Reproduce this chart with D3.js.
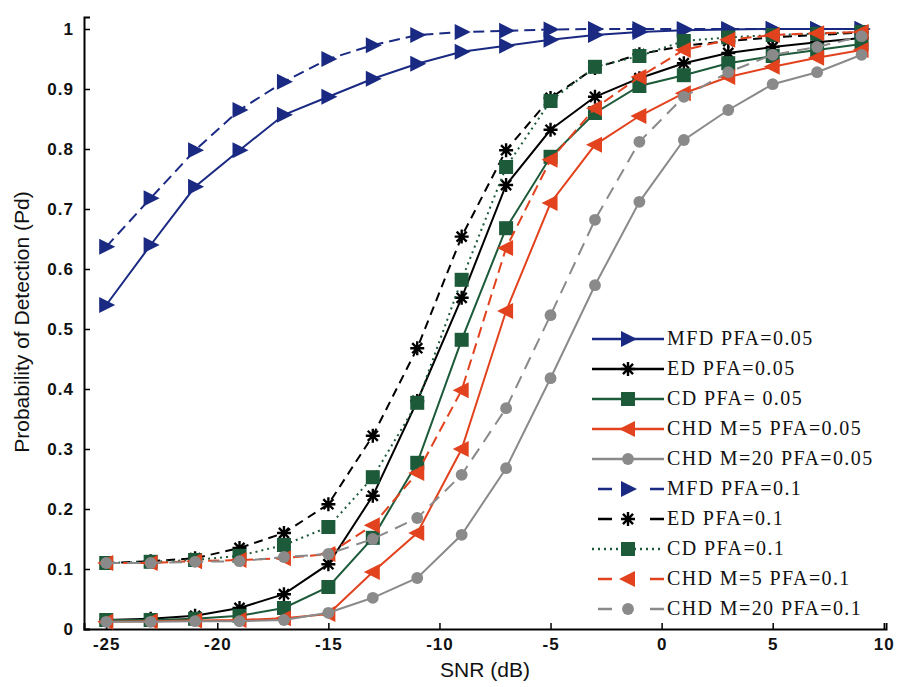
<!DOCTYPE html>
<html><head><meta charset="utf-8">
<script src="https://cdn.jsdelivr.net/npm/d3@7"></script>
<style>body{margin:0;background:#fff}svg{display:block}</style>
</head><body>
<svg id="chart" width="899" height="687"></svg>
<script>
// ---- data ----
const snr = [-25,-23,-21,-19,-17,-15,-13,-11,-9,-7,-5,-3,-1,1,3,5,7,9];
const mfd005 = [0.54,0.64,0.737,0.798,0.857,0.887,0.917,0.942,0.962,0.972,0.982,0.99,0.995,0.998,0.999,1.0,1.0,1.0];
const ed005  = [0.015,0.017,0.022,0.035,0.058,0.108,0.222,0.38,0.552,0.74,0.832,0.887,0.918,0.943,0.96,0.97,0.978,0.985];
const cd005  = [0.015,0.015,0.017,0.022,0.035,0.07,0.152,0.277,0.482,0.668,0.787,0.86,0.905,0.923,0.943,0.955,0.965,0.975];
const chd5_005  = [0.012,0.013,0.014,0.015,0.018,0.025,0.095,0.16,0.30,0.53,0.71,0.807,0.855,0.893,0.92,0.937,0.952,0.965];
const chd20_005 = [0.012,0.012,0.013,0.013,0.015,0.027,0.052,0.085,0.157,0.268,0.418,0.573,0.712,0.815,0.865,0.908,0.928,0.957];
const mfd01  = [0.637,0.718,0.798,0.865,0.912,0.95,0.973,0.99,0.995,0.997,0.999,1.0,1.0,1.0,1.0,1.0,1.0,1.0];
const ed01   = [0.11,0.113,0.118,0.135,0.16,0.208,0.322,0.468,0.654,0.798,0.885,0.935,0.958,0.972,0.98,0.986,0.99,0.994];
const cd01   = [0.11,0.112,0.115,0.122,0.14,0.17,0.253,0.377,0.582,0.77,0.88,0.937,0.955,0.98,0.986,0.99,0.992,0.995];
const chd5_01  = [0.11,0.11,0.113,0.115,0.118,0.125,0.173,0.26,0.398,0.635,0.782,0.868,0.92,0.965,0.982,0.99,0.993,0.995];
const chd20_01 = [0.11,0.11,0.112,0.113,0.12,0.125,0.15,0.185,0.257,0.368,0.523,0.682,0.812,0.887,0.928,0.957,0.97,0.988];
const xTicks = [-25,-20,-15,-10,-5,0,5,10];
const yTicks = [0,0.1,0.2,0.3,0.4,0.5,0.6,0.7,0.8,0.9,1];
const seriesNames = ["MFD PFA=0.05","ED PFA=0.05","CD PFA= 0.05","CHD M=5 PFA=0.05","CHD M=20 PFA=0.05",
  "MFD PFA=0.1","ED PFA=0.1","CD PFA=0.1","CHD M=5 PFA=0.1","CHD M=20 PFA=0.1"];
const seriesValues = [mfd005,ed005,cd005,chd5_005,chd20_005,mfd01,ed01,cd01,chd5_01,chd20_01];

// ---- styles ----
const BLUE="#1a2a82", BLACK="#000", GREEN="#1d5a3a", RED="#e2421d", GREY="#8a8a8a";
const styles = [
  {c:BLUE,m:"tri-r",d:null},{c:BLACK,m:"ast",d:null},{c:GREEN,m:"sq",d:null},{c:RED,m:"tri-l",d:null},{c:GREY,m:"circ",d:null},
  {c:BLUE,m:"tri-r",d:"11,6"},{c:BLACK,m:"ast",d:"9,6"},{c:GREEN,m:"sq",d:"2,4"},{c:RED,m:"tri-l",d:"11,6"},{c:GREY,m:"circ",d:"13,8"}
];

const svg = d3.select("#chart");
const x = d3.scaleLinear().domain([-26,10.1]).range([84,886]);
const y = d3.scaleLinear().domain([0,1.02]).range([629,17]);

// axes
const xAxis = d3.axisBottom(x).tickValues(xTicks).tickSize(-6).tickPadding(9).tickFormat(d=>String(d));
const yAxis = d3.axisLeft(y).tickValues(yTicks).tickSize(-6).tickPadding(10).tickFormat(d=>d===0||d===1?String(d):d3.format(".1f")(d));
const gx = svg.append("g").attr("transform","translate(0,629)").call(xAxis);
const gy = svg.append("g").attr("transform","translate(84,0)").call(yAxis);
[gx,gy].forEach(g=>{
  g.select(".domain").attr("stroke","#000").attr("stroke-width",2);
  g.selectAll(".tick line").attr("stroke","#000").attr("stroke-width",1.5);
  g.selectAll(".tick text").attr("fill","#111").style("font-family","Liberation Sans, Arial, sans-serif")
   .style("font-weight","bold").style("font-size","17px").style("letter-spacing","1px");
});

svg.append("text").attr("x",485).attr("y",677).attr("text-anchor","middle")
  .style("font-family","Liberation Sans, Arial, sans-serif").style("font-size","21px").attr("fill","#111").text("SNR (dB)");
svg.append("text").attr("transform","translate(29,322) rotate(-90)").attr("text-anchor","middle")
  .style("font-family","Liberation Sans, Arial, sans-serif").style("font-size","21px").attr("fill","#111").text("Probability of Detection (Pd)");

// marker drawing
function marker(g, type, color){
  if(type==="tri-r") g.append("path").attr("d","M-7,-8 L9,0 L-7,8 Z").attr("fill",color);
  else if(type==="tri-l") g.append("path").attr("d","M7,-8 L-9,0 L7,8 Z").attr("fill",color);
  else if(type==="sq") g.append("rect").attr("x",-7).attr("y",-7).attr("width",14).attr("height",14).attr("fill",color);
  else if(type==="circ") g.append("path").attr("d",d3.symbol(d3.symbolCircle,110)()).attr("fill",color);
  else if(type==="ast"){
    const r=7, a=r*0.72;
    g.append("path").attr("d",`M0,${-r}V${r}M${-r},0H${r}M${-a},${-a}L${a},${a}M${-a},${a}L${a},${-a}`)
      .attr("stroke",color).attr("stroke-width",2.4).attr("fill","none");
  }
}

const line = d3.line().x((d,i)=>x(snr[i])).y(d=>y(d));
const plot = svg.append("g");
seriesValues.forEach((vals,k)=>{
  const s = styles[k];
  const g = plot.append("g");
  g.append("path").attr("d",line(vals)).attr("fill","none").attr("stroke",s.c)
    .attr("stroke-width",2).attr("stroke-dasharray",s.d);
  vals.forEach((v,i)=>{
    const m = g.append("g").attr("transform",`translate(${x(snr[i])},${y(v)})`);
    marker(m,s.m,s.c);
  });
});

// legend
const lg = svg.append("g");
seriesNames.forEach((name,k)=>{
  const s = styles[k];
  const yy = 339 + k*30;
  lg.append("line").attr("x1",592).attr("x2",664).attr("y1",yy).attr("y2",yy)
    .attr("stroke",s.c).attr("stroke-width",2.5)
    .attr("stroke-dasharray", s.d ? (s.d==="2,4" ? "2,4" : "0,6,14,32") : null);
  const m = lg.append("g").attr("transform",`translate(628,${yy})`);
  marker(m,s.m,s.c);
  lg.append("text").attr("x",667).attr("y",yy+6).text(name)
    .style("font-family","Liberation Serif, Times New Roman, serif").style("font-size","20px")
    .style("letter-spacing","1.4px").attr("fill","#111");
});
</script>
</body></html>
